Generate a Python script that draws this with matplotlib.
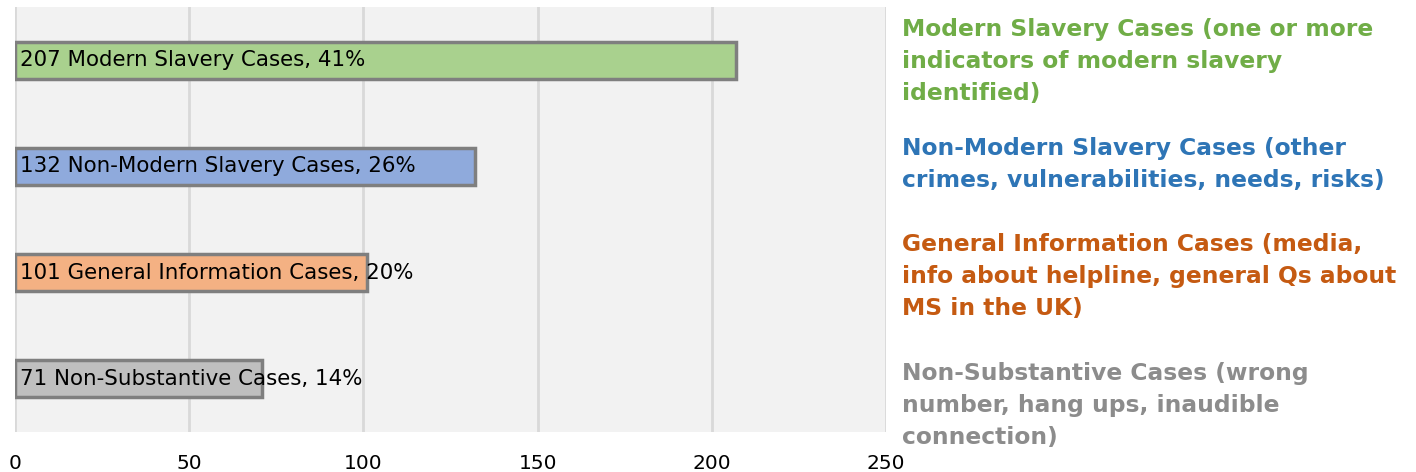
import matplotlib
matplotlib.use('Agg')
import matplotlib.pyplot as plt

plt.rcParams['font.family'] = ['DejaVu Sans']

# data
categories = ["Modern Slavery Cases", "Non-Modern Slavery Cases",
              "General Information Cases", "Non-Substantive Cases"]
counts = [207, 132, 101, 71]
percents = [41, 26, 20, 14]
x_ticks = [0, 50, 100, 150, 200, 250]

descriptions = [
    "Modern Slavery Cases (one or more\nindicators of modern slavery\nidentified)",
    "Non-Modern Slavery Cases (other\ncrimes, vulnerabilities, needs, risks)",
    "General Information Cases (media,\ninfo about helpline, general Qs about\nMS in the UK)",
    "Non-Substantive Cases (wrong\nnumber, hang ups, inaudible\nconnection)",
]

bar_colors = ["#A9D18E", "#8FAADC", "#F4B183", "#BFBFBF"]
text_colors = ["#70AD47", "#2E75B6", "#C55A11", "#8C8C8C"]

W, H = 1416, 472
fig = plt.figure(figsize=(W / 100, H / 100), dpi=100)
ax = fig.add_axes([15 / W, 1 - 432 / H, (886 - 15) / W, (432 - 7) / H])
ax.set_facecolor("#F2F2F2")

ypos = list(range(len(categories)))
ax.barh(ypos, counts, height=0.35, color=bar_colors, edgecolor="#7F7F7F",
        linewidth=2.5, zorder=3)

for y, c, name, p in zip(ypos, counts, categories, percents):
    ax.text(1.5, y, f"{c} {name}, {p}%", va="center", ha="left",
            fontsize=15.4, color="black", zorder=4)

ax.set_ylim(len(categories) - 0.5, -0.5)
ax.set_xlim(0, 250)
ax.set_xticks(x_ticks)
ax.set_xticklabels([str(t) for t in x_ticks], fontsize=14.5)
ax.tick_params(axis="x", length=0, pad=16)
ax.set_yticks([])
ax.xaxis.grid(True, color="#D9D9D9", linewidth=2, zorder=0)
ax.set_axisbelow(True)
for s in ax.spines.values():
    s.set_visible(False)

# descriptive text on the right
block_tops = [18, 137, 233, 362]
for top, txt, col in zip(block_tops, descriptions, text_colors):
    fig.text(902 / W, 1 - top / H, txt, color=col, fontsize=16.8,
             fontweight="bold", va="top", ha="left", linespacing=1.5)

fig.savefig("out.png", dpi=100)
